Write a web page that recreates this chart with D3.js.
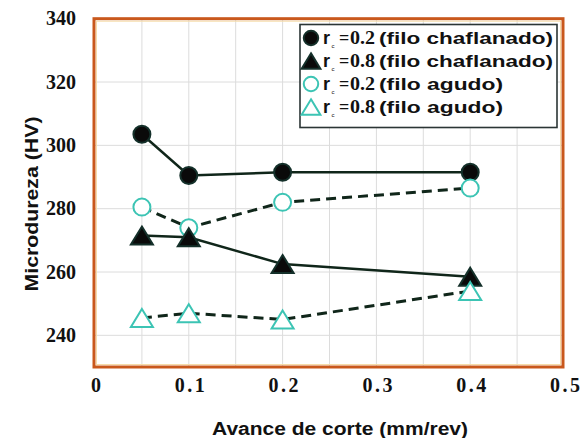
<!DOCTYPE html>
<html><head><meta charset="utf-8">
<script src="https://cdn.jsdelivr.net/npm/d3@7"></script>
<style>html,body{margin:0;padding:0;background:#fff;}svg{display:block;}</style>
</head><body>
<svg id="chart" width="582" height="438"></svg>
<script>
// ---- data ----
const feed = [0.05, 0.1, 0.2, 0.4];
const chaflanado02 = [303.5, 290.5, 291.5, 291.5];
const agudo02 = [280.5, 274, 282, 286.5];
const chaflanado08 = [271.5, 271, 262.5, 258.5];
const agudo08 = [245.5, 247, 245, 254];
const xTicks = [0, 0.1, 0.2, 0.3, 0.4, 0.5];
const yTicks = [240, 260, 280, 300, 320, 340];
const legendValues = ["0.2", "0.8", "0.2", "0.8"];
const legendEdges = ["(filo chaflanado)", "(filo chaflanado)", "(filo agudo)", "(filo agudo)"];

const svg = d3.select("#chart");
const x = d3.scaleLinear().domain([0, 0.5]).range([95, 564]);
const y = d3.scaleLinear().domain([230, 340]).range([367, 18.7]);

const SERIF = '"Liberation Serif"';
const SANS = '"Liberation Sans"';
const LINE = "#10261a";
const TEAL = "#3cc4b4";

function styled(sel, fam, size) {
  return sel.style("font-family", fam).style("font-weight", "bold")
    .style("font-size", size + "px").attr("fill", "#111");
}

// gridlines
const grid = svg.append("g");
grid.selectAll("line.v").data(d3.range(1, 10).map(i => i * 0.05)).join("line")
  .attr("x1", d => x(d)).attr("x2", d => x(d)).attr("y1", y(230)).attr("y2", y(340))
  .attr("stroke", "#dcdcdc").attr("stroke-width", 1);
grid.selectAll("line.h").data(yTicks.slice(0, -1)).join("line")
  .attr("x1", x(0)).attr("x2", x(0.5)).attr("y1", d => y(d)).attr("y2", d => y(d))
  .attr("stroke", "#dcdcdc").attr("stroke-width", 1);

// tick labels
styled(svg.append("g").selectAll("text").data(yTicks).join("text"), SERIF, 20)
  .attr("x", 76).attr("y", d => y(d) + 6.5)
  .attr("text-anchor", "end").text(d => d);
styled(svg.append("g").selectAll("text").data(xTicks).join("text"), SERIF, 20)
  .attr("x", d => x(d) + 1).attr("y", 392)
  .attr("text-anchor", "middle")
  .each(function(d){ if (d !== 0) d3.select(this).attr("textLength", 30).attr("lengthAdjust", "spacing"); })
  .text(d => d === 0 ? "0" : d3.format(".1f")(d));

// axis titles
styled(svg.append("text"), SANS, 18).attr("x", 340).attr("y", 435)
  .attr("text-anchor", "middle")
  .attr("textLength", 256).attr("lengthAdjust", "spacingAndGlyphs")
  .text("Avance de corte (mm/rev)");
styled(svg.append("text"), SANS, 18).attr("transform", "translate(38,204) rotate(-90)")
  .attr("text-anchor", "middle")
  .attr("textLength", 175).attr("lengthAdjust", "spacingAndGlyphs")
  .text("Microdureza (HV)");

// marker helpers
function triPath(cx, cy, w, h) {
  return `M${cx},${cy - h / 2}L${cx + w / 2},${cy + h / 2}L${cx - w / 2},${cy + h / 2}Z`;
}
const series = {
  c02: {vals: chaflanado02, shape: "circle", filled: true, dash: null},
  a02: {vals: agudo02, shape: "circle", filled: false, dash: "10,6"},
  c08: {vals: chaflanado08, shape: "tri", filled: true, dash: null},
  a08: {vals: agudo08, shape: "tri", filled: false, dash: "10,6"}
};
const drawOrder = ["c02", "a02", "c08", "a08"];
const legendOrder = ["c02", "c08", "a02", "a08"];

const lineGen = d3.line().x(d => x(d[0])).y(d => y(d[1]));
const linesG = svg.append("g");
drawOrder.forEach(k => {
  const s = series[k];
  linesG.append("path").datum(feed.map((f, i) => [f, s.vals[i]]))
    .attr("d", lineGen).attr("fill", "none").attr("stroke", LINE)
    .attr("stroke-width", s.dash ? 3 : 2.5)
    .attr("stroke-dasharray", s.dash);
});
const markG = svg.append("g");
function drawMarker(g, shape, filled, cx, cy, scale) {
  const fill = filled ? "#0a0a0a" : "#ffffff";
  const stroke = filled ? "#14302a" : TEAL;
  if (shape === "circle") {
    g.append("circle").attr("cx", cx).attr("cy", cy).attr("r", 8.5 * scale)
      .attr("fill", fill).attr("stroke", stroke).attr("stroke-width", 2);
  } else {
    g.append("path").attr("d", triPath(cx, cy, 22 * scale, 18 * scale))
      .attr("fill", fill).attr("stroke", stroke).attr("stroke-width", 2);
  }
}
drawOrder.forEach(k => {
  const s = series[k];
  feed.forEach((f, i) => drawMarker(markG, s.shape, s.filled, x(f), y(s.vals[i]), 1));
});

// frame
svg.append("rect").attr("x", x(0) - 1).attr("y", y(340)).attr("width", x(0.5) - x(0))
  .attr("height", y(230) - y(340)).attr("fill", "none")
  .attr("stroke", "#c9581c").attr("stroke-width", 3);
svg.append("rect").attr("x", x(0) + 1.5).attr("y", y(340) + 2.5).attr("width", x(0.5) - x(0) - 5)
  .attr("height", y(230) - y(340) - 5).attr("fill", "none")
  .attr("stroke", "#f6dca8").attr("stroke-width", 1);

// legend
const lg = svg.append("g");
lg.append("rect").attr("x", 300).attr("y", 24.5).attr("width", 257).attr("height", 103)
  .attr("fill", "#fff").attr("stroke", "#2b3535").attr("stroke-width", 1.6);
legendOrder.forEach((k, i) => {
  const s = series[k];
  const cy = 38 + i * 23;
  drawMarker(lg, s.shape, s.filled, 311, cy, 0.85);
  styled(lg.append("text"), SANS, 18).attr("x", 323).attr("y", cy + 6).text("r");
  lg.append("text").attr("x", 331.5).attr("y", cy + 10)
    .style("font-family", SANS).style("font-size", "6px").attr("fill", "#111").text("c");
  styled(lg.append("text"), SERIF, 18).attr("x", 339).attr("y", cy + 6).text("=");
  styled(lg.append("text"), SERIF, 19).attr("x", 350).attr("y", cy + 6)
    .attr("textLength", 25).attr("lengthAdjust", "spacingAndGlyphs").text(legendValues[i]);
  styled(lg.append("text"), SANS, 16).attr("x", 379).attr("y", cy + 6)
    .attr("textLength", legendEdges[i].length > 13 ? 174 : 124).attr("lengthAdjust", "spacingAndGlyphs")
    .text(legendEdges[i]);
});
</script>
</body></html>
